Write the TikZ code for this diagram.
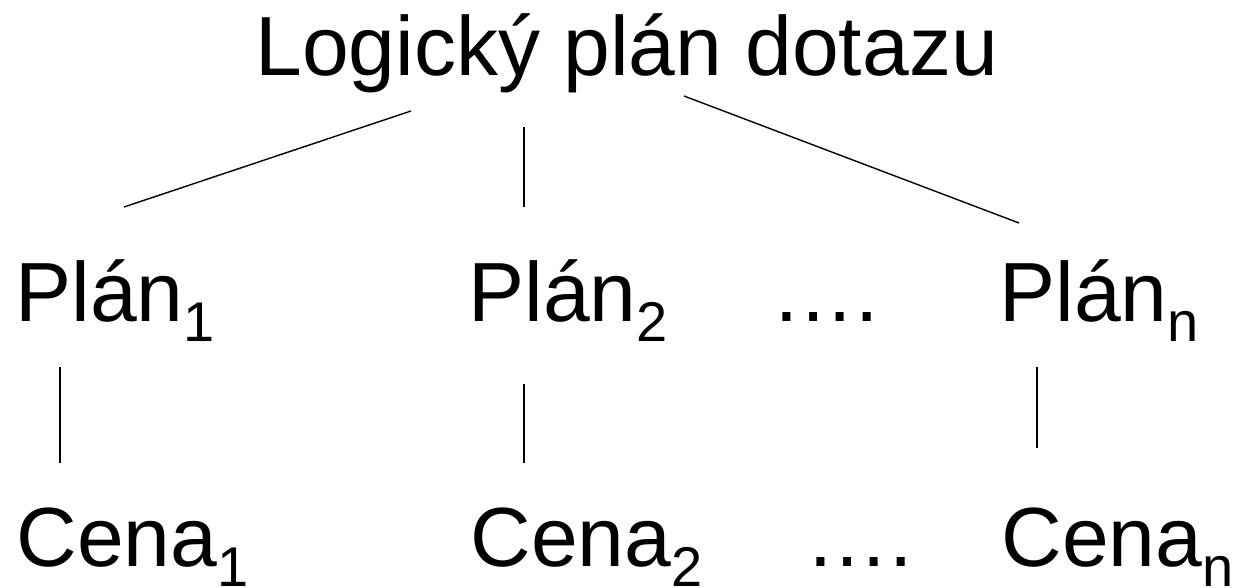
\documentclass[tikz,border=0pt]{standalone}
\usepackage{fontspec}
\setmainfont{Liberation Sans}
\usetikzlibrary{positioning}
\newcommand{\plansub}[1]{\raisebox{-10pt}{\fontsize{28}{28}\selectfont #1}}

\begin{document}
\begin{tikzpicture}[x=0.5pt,y=-0.5pt,
    textnode/.style = {inner sep=0pt, anchor=base west, font=\fontsize{42}{42}\selectfont},
    linkline/.style = {line width=0.7pt}]
     \useasboundingbox (0,0) rectangle (1239,588);
     \node[textnode] (plan) at (255,76) {Logický plán dotazu};
     \node[textnode] (p1) at (15,322) {Plán\plansub{1}};
     \node[textnode] (p2) at (468,322) {Plán\plansub{2}};
     \node[textnode] (pd) at (771,322) {….};
     \node[textnode] (pn) at (999,322) {Plán\plansub{n}};
     \node[textnode] (c1) at (16,567) {Cena\plansub{1}};
     \node[textnode] (c2) at (470,567) {Cena\plansub{2}};
     \node[textnode] (cd) at (805,567) {….};
     \node[textnode] (cn) at (1001,567) {Cena\plansub{n}};
     % konce car
     \coordinate (t1) at (411,111);
     \coordinate (t2) at (524,127);
     \coordinate (t3) at (684,96);
     \coordinate (u1) at (124,207);
     \coordinate (u2) at (524,207);
     \coordinate (u3) at (1019,223);
     \coordinate (v1) at (60,367);
     \coordinate (v2) at (524,384);
     \coordinate (v3) at (1037,367);
     \coordinate (w1) at (60,463);
     \coordinate (w2) at (524,463);
     \coordinate (w3) at (1037,448);
     \draw[linkline] (t1) -- (u1);
     \draw[linkline] (t2) -- (u2);
     \draw[linkline] (t3) -- (u3);
     \draw[linkline] (v1) -- (w1);
     \draw[linkline] (v2) -- (w2);
     \draw[linkline] (v3) -- (w3);
\end{tikzpicture}
\end{document}
